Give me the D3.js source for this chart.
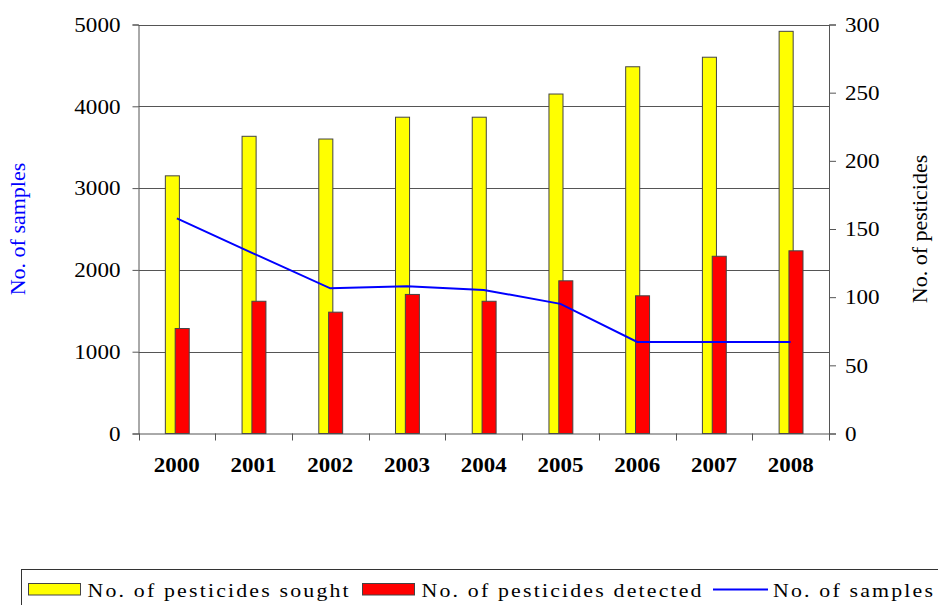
<!DOCTYPE html>
<html>
<head>
<meta charset="utf-8">
<script src="https://cdn.jsdelivr.net/npm/d3@7"></script>
<style>
  html, body { margin: 0; padding: 0; background: #fff; }
  svg text { font-family: "Liberation Serif", "Times New Roman", Times, Tinos, "DejaVu Serif", serif; }
</style>
</head>
<body>
<svg id="chart" width="938" height="605"></svg>
<script>
// Pesticide residue monitoring, 2000–2008
const years = ["2000", "2001", "2002", "2003", "2004", "2005", "2006", "2007", "2008"];
const pesticidesSought = [189, 218, 216, 232, 232, 249, 269, 276, 295];
const pesticidesDetected = [77, 97, 89, 102, 97, 112, 101, 130, 134];
const samples = [2630, 2200, 1775, 1800, 1755, 1585, 1120, 1120, 1120];
const leftTicks = [0, 1000, 2000, 3000, 4000, 5000];
const rightTicks = [0, 50, 100, 150, 200, 250, 300];
const legendItems = [
  { label: "No. of pesticides sought", kind: "bar", color: "#ffff00" },
  { label: "No. of pesticides detected", kind: "bar", color: "#ff0000" },
  { label: "No. of samples", kind: "line", color: "#0000ff" }
];

const FONT = '"Liberation Serif", "Times New Roman", Times, Tinos, "DejaVu Serif", serif';
const WIDEN = 1.1; // text is set slightly wide
const svg = d3.select("#chart");
const plot = { left: 138.5, right: 829, top: 24.5, bottom: 433.5 };

const x = d3.scaleBand().domain(years).range([plot.left, plot.right]).padding(0);
const yLeft = d3.scaleLinear().domain([0, 5000]).range([plot.bottom, plot.top]);
const yRight = d3.scaleLinear().domain([0, 300]).range([plot.bottom, plot.top]);

const gridColor = "#555";
const bw = x.bandwidth();
const barW = bw * 0.183;
const centre = d => x(d) + bw / 2;

// horizontal gridlines
svg.append("g")
  .selectAll("line")
  .data(leftTicks.filter(t => t > 0))
  .join("line")
  .attr("x1", plot.left).attr("x2", plot.right)
  .attr("y1", d => Math.round(yLeft(d)) + 0.5).attr("y2", d => Math.round(yLeft(d)) + 0.5)
  .attr("stroke", gridColor).attr("stroke-width", 1);

// sought bars (right axis)
svg.append("g")
  .selectAll("rect")
  .data(years)
  .join("rect")
  .attr("x", (d, i) => centre(d) - barW * 0.82)
  .attr("y", (d, i) => yRight(pesticidesSought[i]))
  .attr("width", barW)
  .attr("height", (d, i) => plot.bottom - yRight(pesticidesSought[i]))
  .attr("fill", "#ffff00")
  .attr("stroke", "#444").attr("stroke-width", 1);

// detected bars, overlapping the sought bars
svg.append("g")
  .selectAll("rect")
  .data(years)
  .join("rect")
  .attr("x", (d, i) => centre(d) - barW * 0.12)
  .attr("y", (d, i) => yRight(pesticidesDetected[i]))
  .attr("width", barW)
  .attr("height", (d, i) => plot.bottom - yRight(pesticidesDetected[i]))
  .attr("fill", "#ff0000")
  .attr("stroke", "#444").attr("stroke-width", 1);

// samples line (left axis)
const line = d3.line()
  .x((d, i) => centre(years[i]))
  .y(d => yLeft(d));
svg.append("path")
  .datum(samples)
  .attr("d", line)
  .attr("fill", "none")
  .attr("stroke", "#0000ff")
  .attr("stroke-width", 2);

// left axis
const axL = svg.append("g")
  .attr("transform", `translate(${plot.left},0)`)
  .call(d3.axisLeft(yLeft).tickValues(leftTicks).tickSize(6).tickFormat(d3.format("d")));
// right axis
const axR = svg.append("g")
  .attr("transform", `translate(${plot.right},0)`)
  .call(d3.axisRight(yRight).tickValues(rightTicks).tickSize(7).tickFormat(d3.format("d")));
// bottom axis with ticks between categories
const axB = svg.append("g")
  .attr("transform", `translate(0,${plot.bottom})`)
  .call(d3.axisBottom(x).tickSize(0).tickPadding(23));
svg.append("g")
  .selectAll("line")
  .data(d3.range(years.length + 1))
  .join("line")
  .attr("x1", i => Math.round(plot.left + i * bw) + 0.5)
  .attr("x2", i => Math.round(plot.left + i * bw) + 0.5)
  .attr("y1", plot.bottom).attr("y2", plot.bottom + 7)
  .attr("stroke", gridColor);

[axL, axR, axB].forEach(g => {
  g.attr("font-family", null);
  g.select(".domain").attr("stroke", gridColor).attr("stroke-width", 1);
  g.selectAll(".tick line").attr("stroke", gridColor);
  g.selectAll(".tick text")
    .attr("fill", "#000")
    .style("font-family", FONT)
    .style("font-size", "21px");
});
axL.selectAll(".tick text").attr("x", 0).attr("transform", `translate(-18,0) scale(${WIDEN},1)`);
axR.selectAll(".tick text").attr("x", 0).attr("transform", `translate(16,0) scale(${WIDEN},1)`);
axB.select(".domain").attr("d", `M${plot.left},0.5H${plot.right}`);
axB.selectAll(".tick text")
  .style("font-weight", "bold").style("font-size", "21.5px")
  .attr("transform", "scale(1.07,1)");

// axis titles
svg.append("text")
  .attr("transform", `translate(25,${(plot.top + plot.bottom) / 2}) rotate(-90)`)
  .attr("text-anchor", "middle")
  .attr("fill", "#0000ff")
  .style("font-family", FONT)
  .style("font-size", "22px")
  .text("No. of samples");
svg.append("text")
  .attr("transform", `translate(927,${(plot.top + plot.bottom) / 2}) rotate(-90)`)
  .attr("text-anchor", "middle")
  .attr("fill", "#000")
  .style("font-family", FONT)
  .style("font-size", "22px")
  .text("No. of pesticides");

// legend
const legend = svg.append("g");
legend.append("rect")
  .attr("x", 21.5).attr("y", 569.5)
  .attr("width", 940).attr("height", 60)
  .attr("fill", "#fff").attr("stroke", "#333").attr("stroke-width", 1);

const legendX = [28.5, 362.5, 713];
legendItems.forEach((item, i) => {
  const g = legend.append("g").attr("transform", `translate(${legendX[i]},0)`);
  if (item.kind === "bar") {
    g.append("rect")
      .attr("x", 0).attr("y", 583.5)
      .attr("width", 52).attr("height", 11.5)
      .attr("fill", item.color).attr("stroke", "#444");
  } else {
    g.append("line")
      .attr("x1", 0).attr("x2", 55)
      .attr("y1", 589.5).attr("y2", 589.5)
      .attr("stroke", item.color).attr("stroke-width", 2);
  }
  g.append("text")
    .attr("transform", `translate(${item.kind === "bar" ? 59 : 60},596.5) scale(1.12,1)`)
    .attr("fill", "#000")
    .style("font-family", FONT)
    .style("font-size", "19.5px")
    .style("letter-spacing", "1.95px")
    .text(item.label);
});
</script>
</body>
</html>
